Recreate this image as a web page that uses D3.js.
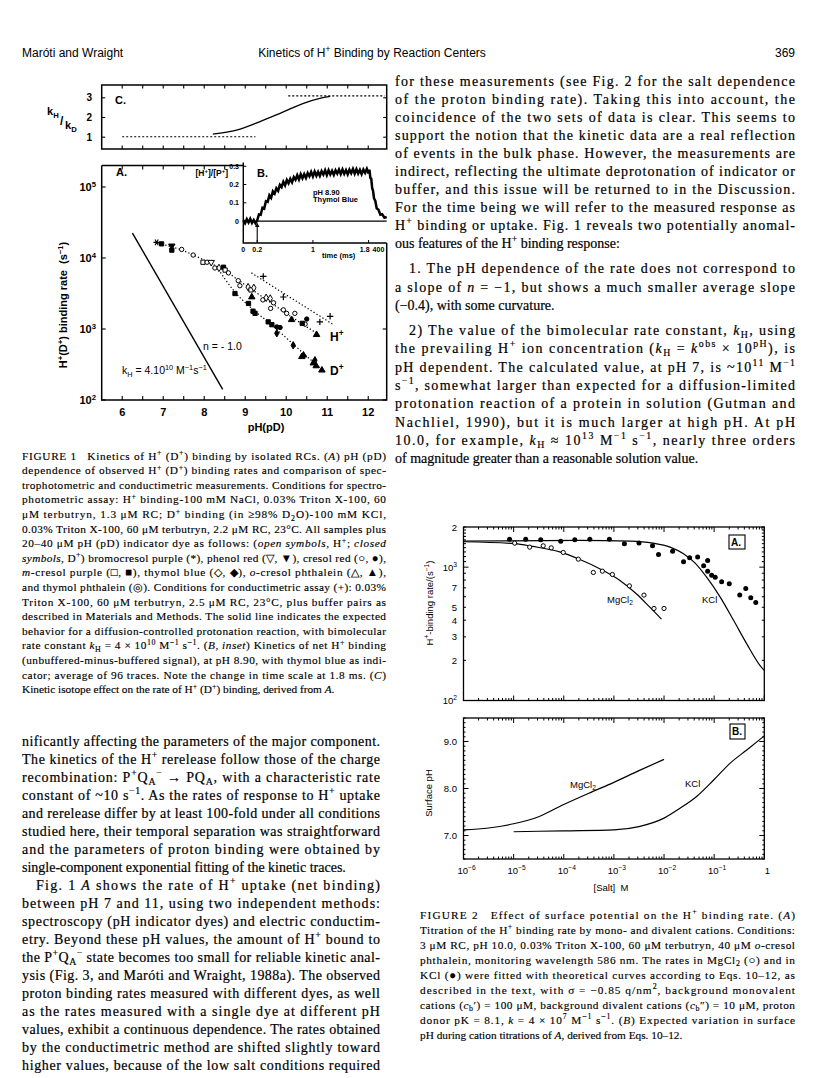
<!DOCTYPE html>
<html><head><meta charset="utf-8">
<script src="https://cdn.jsdelivr.net/npm/d3@7/dist/d3.min.js"></script>
<style>html,body{margin:0;padding:0;background:#fff}svg{display:block}text{white-space:pre}</style>
</head><body>
<svg id="page" width="816" height="1078" xmlns="http://www.w3.org/2000/svg"></svg>
<script>
// ---------------- DATA ----------------
// Fig 1C: kinetic isotope effect kH/kD vs pH
const cLowPH=[6.0,9.25], cLowVal=[1.02,1.02];
const cHighPH=[10.05,12.4], cHighVal=[3.1,3.1];
const cCurvePH=[8.21,8.79,9.36,9.93,10.42,10.82,11.07];
const cCurveVal=[1.16,1.36,1.79,2.29,2.72,2.97,3.07];
// Fig 1A: H+(D+) binding rate vs pH (pD)
const fig1PH=[6.84,6.96,7.21,7.21,7.45,7.73,7.97,8.07,8.17,8.26,8.36,8.47,8.51,8.59,8.83,8.87,9.07,9.14,9.21,8.75,9.16,9.43,9.51,9.61,9.69,9.08,9.24,9.19,9.62,9.93,10.01,10.21,10.13,10.5,10.46,10.39,10.74,9.56,9.65,9.77,9.85,9.77,10.17,10.38,10.42,10.7,10.66,10.73,10.87,9.44,9.93,10.82,11.07];
const fig1Rate=[16600,15800,14800,12900,13200,11000,8710,8710,8710,7240,7240,7410,6760,6170,4790,4070,3890,3550,3800,3160,2820,2570,2750,2690,2340,2290,1660,1780,1950,1860,1660,1660,1350,1380,1170,1200,832,1260,1150,1070,1050,871,589,407,427,363,331,302,263,5500,2820,1260,1510];
const fig1Sym=["*","S","V","S","o","o","s","o","v","o","d","S","s","o","o","o","d","s","d","S","T","o","d","d","o","S","S","S","o","o","o","o","T","O","o","S","T","S","S","O","O","D","D","T","T","D","T","T","T","+","+","+","+"];
const hFitPH=[6.8,7.5,8.0,8.5,9.0,9.5,10.0,10.5,10.8], hFitRate=[16600,12600,9330,6610,4170,2630,1660,1070,832];
const dFitPH=[8.3,8.75,9.2,9.6,10.2,10.9], dFitRate=[7590,3310,1860,1200,589,257];
const condFitPH=[9.15,11.15], condFitRate=[6170,1150];
const diffPH=[6.25,8.45], diffRate=[22400,141];
const fig1XTicks=[6,7,8,9,10,11,12];
const fig1YTicks=[100,1000,10000,100000];
// Fig 1B: net H+ binding trace
const bT=[0,0.025,0.05,0.075,0.1,0.125,0.15,0.175,0.2,0.225,0.25,0.275,0.3,0.325,0.35,0.375,0.4,0.425,0.45,0.475,0.5,0.525,0.55,0.575,0.6,0.625,0.65,0.675,0.7,0.725,0.75,0.775,0.8,0.825,0.85,0.875,0.9,0.925,0.95,0.975,1.0,1.025,1.05,1.075,1.1,1.125,1.15,1.175,1.2,1.225,1.25,1.275,1.3,1.325,1.35,1.375,1.4,1.425,1.45,1.475,1.5,1.525,1.55,1.575,1.6,1.625,1.65,1.675,1.7,1.725,1.75,1.775,1.8];
const bV=[0.005,-0.012,0.010,-0.008,0.012,-0.010,0.006,-0.012,0.004,0.036,0.034,0.073,0.068,0.109,0.105,0.141,0.127,0.163,0.150,0.179,0.165,0.198,0.186,0.215,0.195,0.225,0.207,0.231,0.212,0.241,0.226,0.251,0.228,0.256,0.234,0.257,0.236,0.263,0.245,0.269,0.244,0.271,0.248,0.269,0.247,0.273,0.255,0.278,0.252,0.278,0.255,0.275,0.253,0.278,0.260,0.282,0.257,0.282,0.258,0.279,0.256,0.281,0.262,0.285,0.259,0.284,0.260,0.280,0.257,0.282,0.264,0.286,0.260];
const bT2=[1.8,20,40,60,80,100,120,150,180,220,260,300,350,400];
const bV2=[0.262,0.281,0.236,0.232,0.181,0.166,0.125,0.110,0.070,0.062,0.035,0.038,0.018,0.022];
const bYTicks=[0,0.1,0.2,0.3];
const bXTicks=[0,0.2,1];
// Fig 2A: rate vs salt
const mgFitSalt=[1e-6,1.05e-5,2.4e-5,8.3e-5,2.1e-4,5.2e-4,1.32e-3,2.8e-3,5.2e-3,8.9e-3];
const mgFitRate=[1550,1500,1430,1300,1140,973,794,631,501,407];
const kFitSalt=[1e-6,2.1e-4,2.1e-3,6.0e-3,1.32e-2,2.45e-2,4.17e-2,7.08e-2,0.132,0.245,0.447,0.832,1];
const kFitRate=[1570,1585,1567,1514,1413,1259,1072,841,596,398,266,182,168];
const mgSalt=[1.05e-5,2.09e-5,3.89e-5,5.62e-5,9.77e-5,1.95e-4,3.89e-4,5.89e-4,9.33e-4,2.04e-3,3.98e-3,6.31e-3,1e-2];
const mgRate=[1514,1413,1445,1396,1288,1148,912,933,881,724,617,490,490];
const kSalt=[8.3e-6,1.74e-5,3.47e-5,8.71e-5,1.66e-4,3.31e-4,8.13e-4,1.62e-3,3.16e-3,5.89e-3,7.76e-3,1.48e-2,2.45e-2,3.24e-2,4.68e-2,6.17e-2,7.41e-2,7.41e-2,8.91e-2,0.105,0.141,0.2,0.324,0.427,0.537,0.676];
const kRate=[1622,1622,1603,1567,1603,1622,1622,1496,1514,1445,1245,1318,1096,1175,1189,1023,1122,933,871,841,776,750,617,692,589,543];
// Fig 2B: surface pH vs salt
const surfMgSalt=[1e-6,3.16e-6,1e-5,3.16e-5,1e-4,3.16e-4,1e-3,3.16e-3,1e-2];
const surfMgPH=[7.12,7.16,7.25,7.40,7.66,7.90,8.13,8.38,8.62];
const surfKSalt=[1e-5,1e-4,1e-3,3.16e-3,1e-2,2.09e-2,4.47e-2,9.77e-2,0.209,0.447,1];
const surfKPH=[7.08,7.10,7.12,7.19,7.37,7.58,7.83,8.18,8.54,8.82,9.12];
const saltTicks=[1e-6,1e-5,1e-4,1e-3,1e-2,1e-1,1];
const saltLabels=["10^{−6}","10^{−5}","10^{−4}","10^{−3}","10^{−2}","10^{−1}","1"];
const rateTicks=[100,200,300,400,500,700,1000,2000];
const rateLabels=["10^{2}","2","3","4","5","7","10^{3}","2"];
const surfTicks=[7,8,9], surfLabels=["7.0","8.0","9.0"];

// ---------------- TEXT ----------------
const header=["Maróti and Wraight","Kinetics of H^{+} Binding by Reaction Centers","369"];
const cap1=[
"FIGURE 1   Kinetics of H^{+} (D^{+}) binding by isolated RCs. (*{A}) pH (pD)",
"dependence of observed H^{+} (D^{+}) binding rates and comparison of spec-",
"trophotometric and conductimetric measurements. Conditions for spectro-",
"photometric assay: H^{+} binding-100 mM NaCl, 0.03% Triton X-100, 60",
"μM terbutryn, 1.3 μM RC; D^{+} binding (in ≥98% D_{2}O)-100 mM KCl,",
"0.03% Triton X-100, 60 μM terbutryn, 2.2 μM RC, 23°C. All samples plus",
"20–40 μM pH (pD) indicator dye as follows: (*{open symbols}, H^{+}; *{closed}",
"*{symbols}, D^{+}) bromocresol purple (*), phenol red (▽, ▼), cresol red (○, ●),",
"*{m}-cresol purple (□, ■), thymol blue (◇, ◆), *{o}-cresol phthalein (△, ▲),",
"and thymol phthalein (◎). Conditions for conductimetric assay (+): 0.03%",
"Triton X-100, 60 μM terbutryn, 2.5 μM RC, 23°C, plus buffer pairs as",
"described in Materials and Methods. The solid line indicates the expected",
"behavior for a diffusion-controlled protonation reaction, with bimolecular",
"rate constant *{k}_{H} = 4 × 10^{10} M^{−1} s^{−1}. (*{B, inset}) Kinetics of net H^{+} binding",
"(unbuffered-minus-buffered signal), at pH 8.90, with thymol blue as indi-",
"cator; average of 96 traces. Note the change in time scale at 1.8 ms. (*{C})",
"Kinetic isotope effect on the rate of H^{+} (D^{+}) binding, derived from *{A}.\n"];
const bodyL=[
"nificantly affecting the parameters of the major component.",
"The kinetics of the H^{+} rerelease follow those of the charge",
"recombination: P^{+}Q_{A}^{−} → PQ_{A}, with a characteristic rate",
"constant of ~10 s^{−1}. As the rates of response to H^{+} uptake",
"and rerelease differ by at least 100-fold under all conditions",
"studied here, their temporal separation was straightforward",
"and the parameters of proton binding were obtained by",
"single-component exponential fitting of the kinetic traces.\n",
"\tFig. 1 *{A} shows the rate of H^{+} uptake (net binding)",
"between pH 7 and 11, using two independent methods:",
"spectroscopy (pH indicator dyes) and electric conductim-",
"etry. Beyond these pH values, the amount of H^{+} bound to",
"the P^{+}Q_{A}^{−} state becomes too small for reliable kinetic anal-",
"ysis (Fig. 3, and Maróti and Wraight, 1988a). The observed",
"proton binding rates measured with different dyes, as well",
"as the rates measured with a single dye at different pH",
"values, exhibit a continuous dependence. The rates obtained",
"by the conductimetric method are shifted slightly toward",
"higher values, because of the low salt conditions required"];
const bodyR=[
"for these measurements (see Fig. 2 for the salt dependence",
"of the proton binding rate). Taking this into account, the",
"coincidence of the two sets of data is clear. This seems to",
"support the notion that the kinetic data are a real reflection",
"of events in the bulk phase. However, the measurements are",
"indirect, reflecting the ultimate deprotonation of indicator or",
"buffer, and this issue will be returned to in the Discussion.",
"For the time being we will refer to the measured response as",
"H^{+} binding or uptake. Fig. 1 reveals two potentially anomal-",
"ous features of the H^{+} binding response:\n",
"\t1. The pH dependence of the rate does not correspond to",
"a slope of *{n} = −1, but shows a much smaller average slope",
"(−0.4), with some curvature.\n",
"\t2) The value of the bimolecular rate constant, *{k}_{H}, using",
"the prevailing H^{+} ion concentration (*{k}_{H} = *{k}^{obs} × 10^{pH}), is",
"pH dependent. The calculated value, at pH 7, is ~10^{11} M^{−1}",
"s^{−1}, somewhat larger than expected for a diffusion-limited",
"protonation reaction of a protein in solution (Gutman and",
"Nachliel, 1990), but it is much larger at high pH. At pH",
"10.0, for example, *{k}_{H} ≈ 10^{13} M^{−1} s^{−1}, nearly three orders",
"of magnitude greater than a reasonable solution value.\n"];
const bodyRY=[81,99,117,135,153,171,189,207,225,243,268,287,305,330,348,367,385,403,422,440,458];
const cap2=[
"FIGURE 2   Effect of surface potential on the H^{+} binding rate. (*{A})",
"Titration of the H^{+} binding rate by mono- and divalent cations. Conditions:",
"3 μM RC, pH 10.0, 0.03% Triton X-100, 60 μM terbutryn, 40 μM *{o}-cresol",
"phthalein, monitoring wavelength 586 nm. The rates in MgCl_{2} (○) and in",
"KCl (●) were fitted with theoretical curves according to Eqs. 10–12, as",
"described in the text, with σ = −0.85 q/nm^{2}, background monovalent",
"cations (*{c}_{b}′) = 100 μM, background divalent cations (*{c}_{b}″) = 10 μM, proton",
"donor pK = 8.1, *{k} = 4 × 10^{7} M^{−1} s^{−1}. (*{B}) Expected variation in surface",
"pH during cation titrations of *{A}, derived from Eqs. 10–12.\n"];

// ---------------- HELPERS ----------------
const SERIF="'Liberation Serif','Times New Roman',serif";
const SANS="'Liberation Sans',Arial,Helvetica,sans-serif";
const svg=d3.select("#page");
svg.append("rect").attr("width",816).attr("height",1078).attr("fill","#fff");

function rich(sel,str,fs){
  const parts=str.split(/(\^\{[^}]*\}|_\{[^}]*\}|\*\{[^}]*\})/g).filter(p=>p!=="");
  let off=0;
  parts.forEach(p=>{
    let kind="n",t=p;
    if(p.startsWith("^{")){kind="sup";t=p.slice(2,-1);}
    else if(p.startsWith("_{")){kind="sub";t=p.slice(2,-1);}
    else if(p.startsWith("*{")){kind="it";t=p.slice(2,-1);}
    const target=kind==="sup"?-0.38*fs:kind==="sub"?0.24*fs:0;
    const ts=sel.append("tspan").text(t);
    if(target-off!==0) ts.attr("dy",(target-off).toFixed(2));
    off=target;
    if(kind==="sup"||kind==="sub") ts.attr("font-size",(0.7*fs).toFixed(2));
    if(kind==="it") ts.attr("font-style","italic");
  });
}
function label(x,y,str,o={}){
  const fs=o.fs||10;
  const t=svg.append("text").attr("x",x).attr("y",y)
    .attr("font-family",o.ff||SANS).attr("font-size",fs)
    .attr("font-weight",o.fw||"normal").attr("text-anchor",o.anchor||"start").attr("fill","#000");
  if(o.rot) t.attr("transform",`rotate(${o.rot},${x},${y})`);
  rich(t,str,fs);
  return t;
}
function block(lines,x0,x1,ys,fs,ff,indent,sw){
  lines.forEach((ln,i)=>{
    let s=ln,ind=0,last=false;
    if(s.startsWith("\t")){s=s.slice(1);ind=indent;}
    if(s.endsWith("\n")){s=s.slice(0,-1);last=true;}
    const t=svg.append("text").attr("x",x0+ind).attr("y",ys[i]).attr("font-family",ff).attr("font-size",fs)
      .attr("fill","#000").attr("stroke","#000").attr("stroke-width",sw||0);
    rich(t,s,fs);
    if(!last) t.attr("textLength",x1-x0-ind).attr("lengthAdjust","spacing");
  });
}
function seg(g,x1,y1,x2,y2,w){g.append("line").attr("x1",x1).attr("y1",y1).attr("x2",x2).attr("y2",y2).attr("stroke","#000").attr("stroke-width",w||1);}

// ---------------- HEADER ----------------
label(22,57,header[0],{fs:12});
label(372,57,header[1],{fs:12,anchor:"middle"});
label(795,57,header[2],{fs:12,anchor:"end"});

// ---------------- FIGURE 1 ----------------
const xPH=d3.scaleLinear().domain([5.5,12.45]).range([101.7,386.7]);
const yC=d3.scaleLinear().domain([0.4,3.65]).range([149,85]);
const yA=d3.scaleLog().domain([100,2e5]).range([400,165.6]);
const xB=d3.scaleLinear().domain([0,1.8]).range([243.3,368.6]);
const xB2=d3.scaleLinear().domain([1.8,400]).range([368.6,386.7]);
const yB=d3.scaleLinear().domain([-0.12,0.32]).range([243,162.6]);

// Panel C
const gC=svg.append("g");
gC.append("rect").attr("x",xPH(5.5)).attr("y",yC(3.65)).attr("width",xPH(12.45)-xPH(5.5)).attr("height",yC(0.4)-yC(3.65))
  .attr("fill","none").attr("stroke","#000").attr("stroke-width",1.5);
d3.range(6,12.01,0.5).forEach(p=>{seg(gC,xPH(p),yC(0.4),xPH(p),yC(0.4)-3.5,1.1);seg(gC,xPH(p),yC(3.65),xPH(p),yC(3.65)+3.5,1.1);});
[1,2,3].forEach(v=>{seg(gC,xPH(5.5),yC(v),xPH(5.5)+3.5,yC(v),1.1);seg(gC,xPH(12.45),yC(v),xPH(12.45)-3.5,yC(v),1.1);
  label(92,yC(v)+3.5,String(v),{fs:10,fw:"bold",anchor:"end"});});
const lineC=d3.line().x(d=>xPH(d[0])).y(d=>yC(d[1]));
gC.append("path").attr("d",lineC(d3.zip(cLowPH,cLowVal))).attr("stroke","#000").attr("stroke-width",1.1).attr("stroke-dasharray","2,2").attr("fill","none");
gC.append("path").attr("d",lineC(d3.zip(cHighPH,cHighVal))).attr("stroke","#000").attr("stroke-width",1.1).attr("stroke-dasharray","2,2").attr("fill","none");
gC.append("path").attr("d",lineC.curve(d3.curveMonotoneX)(d3.zip(cCurvePH,cCurveVal))).attr("stroke","#000").attr("stroke-width",1.3).attr("fill","none");
label(115,104,"C.",{fs:11,fw:"bold"});
label(47,115,"k_{H}",{fs:11,fw:"bold"});
label(60,125,"/",{fs:12,fw:"bold"});
label(65,129,"k_{D}",{fs:11,fw:"bold"});

// Panel A
const gA=svg.append("g");
gA.append("path").attr("d",`M${xPH(5.5)},${yA(2e5)}V${yA(100)}H${xPH(12.45)}V${yB(-0.12)}`).attr("fill","none").attr("stroke","#000").attr("stroke-width",1.5);
gA.append("path").attr("d",`M${xPH(5.5)},${yA(2e5)}H${xB(0)}`).attr("fill","none").attr("stroke","#000").attr("stroke-width",1.5);
d3.range(6,12.01,0.5).forEach(p=>seg(gA,xPH(p),yA(100),xPH(p),yA(100)-4,1.1));
d3.range(6,8.51,0.5).forEach(p=>seg(gA,xPH(p),yA(2e5),xPH(p),yA(2e5)+4,1.1));
fig1XTicks.forEach(p=>label(xPH(p),416,String(p),{fs:11,fw:"bold",anchor:"middle"}));
fig1YTicks.forEach((v,i)=>{seg(gA,xPH(5.5),yA(v),xPH(5.5)+4,yA(v),1.1);
  if(v<=1000) seg(gA,xPH(12.45),yA(v),xPH(12.45)-4,yA(v),1.1);
  label(96,yA(v)+4,"10^{"+(i+2)+"}",{fs:11,fw:"bold",anchor:"end"});});
label(266,431,"pH(pD)",{fs:11,fw:"bold",anchor:"middle"});
label(67,305,"H^{+}(D^{+}) binding rate  (s^{−1})",{fs:11,fw:"bold",anchor:"middle",rot:-90});
label(116,176,"A.",{fs:11,fw:"bold"});
const lineA=d3.line().x(d=>xPH(d[0])).y(d=>yA(d[1]));
gA.append("path").attr("d",lineA(d3.zip(diffPH,diffRate))).attr("stroke","#000").attr("stroke-width",1.4).attr("fill","none");
[[hFitPH,hFitRate],[dFitPH,dFitRate],[condFitPH,condFitRate]].forEach(([p,r])=>{
  gA.append("path").attr("d",lineA.curve(d3.curveMonotoneX)(d3.zip(p,r))).attr("stroke","#000").attr("stroke-width",1.2).attr("stroke-dasharray","1.3,2.2").attr("fill","none");
});
const symT={o:d3.symbolCircle,O:d3.symbolCircle,s:d3.symbolSquare,S:d3.symbolSquare,d:d3.symbolDiamond,D:d3.symbolDiamond,t:d3.symbolTriangle,T:d3.symbolTriangle,v:d3.symbolTriangle,V:d3.symbolTriangle};
fig1PH.forEach((p,i)=>{
  const c=fig1Sym[i], x=xPH(p), y=yA(fig1Rate[i]);
  if(c==="+"){gA.append("path").attr("d","M-3.2,0H3.2M0,-3.2V3.2").attr("transform",`translate(${x},${y})`).attr("stroke","#000").attr("stroke-width",1.2);return;}
  if(c==="*"){gA.append("path").attr("d","M-3.2,0H3.2M-1.6,-2.8L1.6,2.8M1.6,-2.8L-1.6,2.8").attr("transform",`translate(${x},${y})`).attr("stroke","#000").attr("stroke-width",1.1);return;}
  const filled=c===c.toUpperCase();
  const size=(c==="o"||c==="O")?15:(c==="d"||c==="D")?16:18;
  gA.append("path").attr("d",d3.symbol(symT[c],size)()).attr("transform",`translate(${x},${y})`+((c==="v"||c==="V")?" rotate(180)":""))
    .attr("fill",filled?"#000":"#fff").attr("stroke","#000").attr("stroke-width",1);
});
label(203,350,"n = - 1.0",{fs:10.5});
label(122,374,"k_{H} = 4.10^{10} M^{−1}s^{−1}",{fs:10.5});
label(330,341,"H^{+}",{fs:12,fw:"bold"});
label(330,375,"D^{+}",{fs:12,fw:"bold"});

// Panel B (inset)
const gB=svg.append("g");
gB.append("rect").attr("x",xB(0)).attr("y",yB(0.32)).attr("width",xB2(400)-xB(0)).attr("height",yB(-0.12)-yB(0.32)).attr("fill","#fff");
gB.append("path").attr("d",`M${xB(0)},${yB(0.32)}V${yB(-0.12)}H${xB2(400)}`).attr("fill","none").attr("stroke","#000").attr("stroke-width",1.4);
bYTicks.forEach(v=>{seg(gB,xB(0),yB(v),xB(0)+3,yB(v),1);label(239,yB(v)+2.5,String(v),{fs:7,fw:"bold",anchor:"end"});});
bXTicks.forEach(v=>{seg(gB,xB(v),yB(-0.12),xB(v),yB(-0.12)-3,1);label(xB(v),252,String(v),{fs:7,fw:"bold",anchor:"middle"});});
seg(gB,xB(1.8),yB(-0.12),xB(1.8),yB(-0.12)-3,1);
label(xB(1.8)+1,252,"1.8",{fs:7,fw:"bold",anchor:"end"});
label(xB(1.8)+4,252,"400",{fs:7,fw:"bold"});
label(322,258,"time (ms)",{fs:7.5,fw:"bold"});
seg(gB,xB(0.2),yB(0),xB2(400),yB(0),1.2);
const lineB=d3.line().x(d=>xB(d[0])).y(d=>yB(d[1]));
const lineB2=d3.line().x(d=>xB2(d[0])).y(d=>yB(d[1]));
gB.append("path").attr("d",lineB(d3.zip(bT,bV))).attr("stroke","#000").attr("stroke-width",2.5).attr("fill","none");
gB.append("path").attr("d",lineB2(d3.zip(bT2,bV2))).attr("stroke","#000").attr("stroke-width",2.5).attr("fill","none");
seg(gB,xB(0.2),yB(-0.12)-1,xB(0.2),yB(0)+5,1.1);
gB.append("path").attr("d",`M${xB(0.2)-2.2},${yB(0)+6}L${xB(0.2)},${yB(0)+1.5}L${xB(0.2)+2.2},${yB(0)+6}Z`).attr("fill","#000");
label(257,177,"B.",{fs:11,fw:"bold"});
label(313,195,"pH 8.90",{fs:7.5,fw:"bold"});
label(313,202,"Thymol Blue",{fs:7.5,fw:"bold"});
label(228,176,"[H^{+}]/[P^{+}]",{fs:8.5,fw:"bold",anchor:"end"});

// ---------------- FIGURE 2 ----------------
const xS=d3.scaleLog().domain([1e-6,1]).range([463.5,764.3]);
const yR=d3.scaleLog().domain([100,2000]).range([700.5,527]);
const yP=d3.scaleLinear().domain([6.5,9.5]).range([859,718]);
const g2=svg.append("g");
function salticks(yTop,yBot){
  const vals=[];
  for(let e=-6;e<0;e++) for(let k=1;k<10;k++) vals.push(k*Math.pow(10,e));
  vals.push(1);
  vals.forEach(v=>{const maj=Math.abs(Math.log10(v)-Math.round(Math.log10(v)))<1e-9;const L=maj?5:2.5;
    seg(g2,xS(v),yBot,xS(v),yBot-L,1);seg(g2,xS(v),yTop,xS(v),yTop+L,1);});
}
// Panel 2A
g2.append("rect").attr("x",xS(1e-6)).attr("y",yR(2000)).attr("width",xS(1)-xS(1e-6)).attr("height",yR(100)-yR(2000)).attr("fill","none").attr("stroke","#000").attr("stroke-width",1.3);
salticks(yR(2000),yR(100));
d3.range(100,2001,100).forEach(v=>{const maj=(v===100||v===1000);const L=maj?5:2.5;
  seg(g2,xS(1e-6),yR(v),xS(1e-6)+L,yR(v),1);seg(g2,xS(1),yR(v),xS(1)-L,yR(v),1);});
rateTicks.forEach((v,i)=>label(457,yR(v)+3.5,rateLabels[i],{fs:9.5,anchor:"end"}));
label(433,603,"H^{+}-binding rate/(s^{−1})",{fs:9.5,anchor:"middle",rot:-90});
const lineR=d3.line().x(d=>xS(d[0])).y(d=>yR(d[1])).curve(d3.curveMonotoneX);
g2.append("path").attr("d",lineR(d3.zip(mgFitSalt,mgFitRate))).attr("fill","none").attr("stroke","#000").attr("stroke-width",1.2);
g2.append("path").attr("d",lineR(d3.zip(kFitSalt,kFitRate))).attr("fill","none").attr("stroke","#000").attr("stroke-width",1.2);
mgSalt.forEach((s,i)=>g2.append("circle").attr("cx",xS(s)).attr("cy",yR(mgRate[i])).attr("r",2.1).attr("fill","#fff").attr("stroke","#000").attr("stroke-width",1));
kSalt.forEach((s,i)=>g2.append("circle").attr("cx",xS(s)).attr("cy",yR(kRate[i])).attr("r",2.5).attr("fill","#000"));
label(607,603,"MgCl_{2}",{fs:9.5});
label(702,603,"KCl",{fs:9.5});
g2.append("rect").attr("x",729).attr("y",535).attr("width",16).attr("height",14).attr("fill","#fff").attr("stroke","#000").attr("stroke-width",1.1);
label(731,546,"A.",{fs:10,fw:"bold"});
// Panel 2B
g2.append("rect").attr("x",xS(1e-6)).attr("y",yP(9.5)).attr("width",xS(1)-xS(1e-6)).attr("height",yP(6.5)-yP(9.5)).attr("fill","none").attr("stroke","#000").attr("stroke-width",1.3);
salticks(yP(9.5),yP(6.5));
d3.range(6.5,9.51,0.1).forEach(v=>{const maj=Math.abs(v-Math.round(v))<1e-6;const L=maj?5:2;
  seg(g2,xS(1e-6),yP(v),xS(1e-6)+L,yP(v),1);seg(g2,xS(1),yP(v),xS(1)-L,yP(v),1);});
surfTicks.forEach((v,i)=>label(457,yP(v)+3.5,surfLabels[i],{fs:9.5,anchor:"end"}));
label(432,793,"Surface pH",{fs:9.5,anchor:"middle",rot:-90});
const lineP=d3.line().x(d=>xS(d[0])).y(d=>yP(d[1])).curve(d3.curveMonotoneX);
g2.append("path").attr("d",lineP(d3.zip(surfMgSalt,surfMgPH))).attr("fill","none").attr("stroke","#000").attr("stroke-width",1.2);
g2.append("path").attr("d",lineP(d3.zip(surfKSalt,surfKPH))).attr("fill","none").attr("stroke","#000").attr("stroke-width",1.2);
label(570,788,"MgCl_{2}",{fs:9.5});
label(685,787,"KCl",{fs:9.5});
g2.append("rect").attr("x",730).attr("y",724).attr("width",15).attr("height",15).attr("fill","#fff").attr("stroke","#000").attr("stroke-width",1.1);
label(732,735,"B.",{fs:10,fw:"bold"});
saltTicks.forEach((v,i)=>label(xS(v)+3,874,saltLabels[i],{fs:9.5,anchor:"middle"}));
label(611,891,"[Salt]  M",{fs:9.5,anchor:"middle"});

// ---------------- TEXT BLOCKS ----------------
block(cap1,22,386,cap1.map((_,i)=>459.5+i*14.6),11.3,SERIF,0,0.15);
block(bodyL,22,380,bodyL.map((_,i)=>745.5+i*18),14,SERIF,14,0.2);
block(bodyR,395,795,bodyRY.map(y=>y+4.5),14,SERIF,14,0.2);
block(cap2,420,795,cap2.map((_,i)=>918.5+i*15),11.3,SERIF,0,0.15);
</script>
</body></html>
